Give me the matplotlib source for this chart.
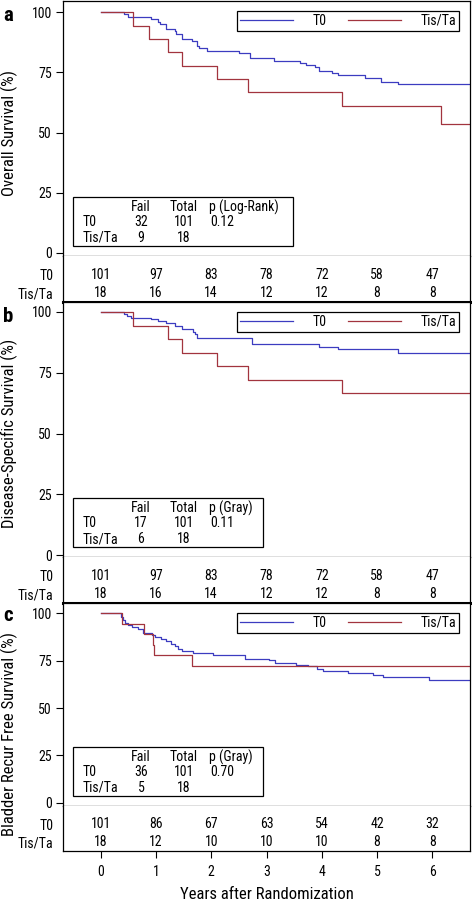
import matplotlib
matplotlib.use('Agg')
import matplotlib.pyplot as plt
from matplotlib import font_manager
from matplotlib.patches import Rectangle
from matplotlib.transforms import Affine2D

# Figure size in pixels (dpi = 100)
W, H = 472, 902
LEFT, RIGHT = 63, 470
XLIM = (-0.68, 6.68)

BLUE = '#3c3cc0'
RED = '#a2343e'

# Pick a narrow sans if one is installed
installed = {f.name for f in font_manager.fontManager.ttflist}
FONT = 'Roboto'
for name in ['Liberation Sans Narrow', 'Roboto Condensed', 'Roboto']:
    if name in installed:
        FONT = name
        break
plt.rcParams['font.family'] = [FONT, 'DejaVu Sans']

groups = ['T0', 'Tis/Ta']
years = [0, 1, 2, 3, 4, 5, 6]
yticks = [0, 25, 50, 75, 100]

# (a) Overall survival
os_t0_time = [0, 0.42, 0.50, 0.92, 1.04, 1.07, 1.19, 1.34, 1.37, 1.48, 1.65, 1.74, 1.78,
              1.93, 2.51, 2.71, 3.13, 3.60, 3.72, 3.87, 3.95, 4.18, 4.29, 4.78, 5.07, 5.38, 6.8]
os_t0_surv = [100, 99, 98, 97, 96, 95, 93, 92, 91, 89, 88, 86, 85,
              84, 83, 80.8, 79.8, 79.0, 78.0, 77.0, 75.6, 74.8, 73.7, 72.5, 71.1, 70.0, 70.0]
os_tis_time = [0, 0.59, 0.87, 1.22, 1.48, 2.10, 2.67, 4.37, 6.15, 6.8]
os_tis_surv = [100, 94.4, 88.9, 83.3, 77.8, 72.2, 66.7, 61.1, 53.5, 53.5]
os_risk_t0 = [101, 97, 83, 78, 72, 58, 47]
os_risk_tis = [18, 16, 14, 12, 12, 8, 8]
os_fail = [32, 9]
os_total = [101, 18]
os_p = '0.12'

# (b) Disease-specific survival
dss_t0_time = [0, 0.43, 0.47, 0.55, 0.92, 1.04, 1.19, 1.34, 1.48, 1.67, 1.70, 1.74,
               2.73, 3.95, 4.30, 5.38, 6.8]
dss_t0_surv = [100, 99, 98.4, 97.7, 97.1, 96.3, 95.3, 94.4, 93, 91.9, 90.8, 89.2,
               86.8, 85.7, 84.8, 83.3, 83.3]
dss_tis_time = [0, 0.59, 1.22, 1.48, 2.11, 2.67, 4.37, 6.8]
dss_tis_surv = [100, 94.4, 88.9, 83.3, 77.8, 72.2, 66.7, 66.7]
dss_risk_t0 = [101, 97, 83, 78, 72, 58, 47]
dss_risk_tis = [18, 16, 14, 12, 12, 8, 8]
dss_fail = [17, 6]
dss_total = [101, 18]
dss_p = '0.11'

# (c) Bladder recurrence free survival
brfs_t0_time = [0, 0.37, 0.41, 0.44, 0.50, 0.57, 0.68, 0.77, 0.93, 0.98, 1.10, 1.19, 1.28,
                1.34, 1.40, 1.48, 1.67, 2.03, 2.61, 3.05, 3.15, 3.54, 3.75, 3.91, 4.02,
                4.47, 4.92, 5.11, 5.94, 6.8]
brfs_t0_surv = [100, 98, 96.5, 94.7, 93.5, 92.6, 91.8, 89.5, 88.3, 87.4, 86.3, 85.1, 83.7,
                82.5, 81.2, 79.8, 79.0, 78.0, 76.0, 75.3, 73.9, 72.8, 71.9, 70.7, 69.6,
                68.6, 67.5, 66.3, 64.7, 64.7]
brfs_tis_time = [0, 0.38, 0.78, 0.94, 0.97, 1.66, 6.8]
brfs_tis_surv = [100, 94.4, 88.9, 83.3, 77.8, 72.2, 72.2]
brfs_risk_t0 = [101, 86, 67, 63, 54, 42, 32]
brfs_risk_tis = [18, 12, 10, 10, 10, 8, 8]
brfs_fail = [36, 5]
brfs_total = [101, 18]
brfs_p = '0.70'

FS = 10  # base font size


def rect(top, bottom):
    """Axes rectangle in figure fraction from pixel rows (top-down)."""
    return [LEFT / W, 1 - bottom / H, (RIGHT - LEFT) / W, (bottom - top) / H]


def draw_panel(fig, pix, p):
    """Draw one survival panel with its legend, stats box and at-risk table."""
    top, mid, bottom = p['rows']
    ax = fig.add_axes(rect(top, mid))
    ax.step(p['t0'][0], p['t0'][1], where='post', color=BLUE, lw=0.9, label=groups[0])
    ax.step(p['tis'][0], p['tis'][1], where='post', color=RED, lw=0.9, label=groups[1])
    ax.set_xlim(XLIM)
    ax.set_ylim(p['ylim'])
    ax.set_yticks(yticks)
    ax.set_xticks([])
    ax.tick_params(axis='y', direction='out', length=5, width=0.8, labelsize=FS, pad=3)
    for s in ax.spines.values():
        s.set_linewidth(0.9)

    h = mid - top
    leg = ax.legend(loc='upper right', bbox_to_anchor=(1 - 11 / (RIGHT - LEFT), 1 - 10 / h),
                    ncol=2, fancybox=False, edgecolor='black', framealpha=1,
                    handlelength=3.8, handletextpad=1.4, columnspacing=1.6,
                    borderpad=0.2, borderaxespad=0, fontsize=FS)
    leg.get_frame().set_linewidth(0.9)

    # stats box
    btop = mid - 59
    ax.add_patch(Rectangle((73, btop), p['box_w'], 49, transform=pix, fill=False,
                           lw=0.9, ec='black', clip_on=False))
    kw = dict(transform=pix, va='center', fontsize=FS)
    ax.text(141, btop + 10, 'Fail', ha='center', **kw)
    ax.text(184, btop + 10, 'Total', ha='center', **kw)
    ax.text(209, btop + 10, p['p_head'], ha='left', **kw)
    for i, g in enumerate(groups):
        y = btop + 25 + 16 * i
        ax.text(83, y, g, ha='left', **kw)
        ax.text(141, y, str(p['fail'][i]), ha='center', **kw)
        ax.text(184, y, str(p['total'][i]), ha='center', **kw)
    ax.text(210, btop + 25, p['p'], ha='left', **kw)

    # at-risk table
    rax = fig.add_axes(rect(mid, bottom))
    rax.set_xlim(XLIM)
    rax.set_ylim(0, 1)
    rax.spines['top'].set_visible(False)
    for s in ['left', 'right', 'bottom']:
        rax.spines[s].set_linewidth(0.9)
    if p['thick']:
        rax.spines['bottom'].set_linewidth(2.2)
    rows_y = [0.59, 0.2]
    rax.set_yticks(rows_y)
    rax.set_yticklabels(groups)
    rax.tick_params(axis='y', length=0, pad=7, labelsize=FS)
    for y, vals in zip(rows_y, [p['risk_t0'], p['risk_tis']]):
        for x, v in zip(years, vals):
            rax.text(x, y, str(v), ha='center', va='center', fontsize=FS)
    if p['last']:
        rax.set_xticks(years)
        rax.tick_params(axis='x', direction='out', length=5, width=0.8, labelsize=FS, pad=5)
        rax.set_xlabel('Years after Randomization', fontsize=12, labelpad=6)
    else:
        rax.set_xticks([])

    fig.text(8 / W, 1 - p['letter_y'] / H, p['letter'], fontsize=15, fontweight='bold',
             ha='center', va='center')
    fig.text(9 / W, 1 - p['ylabel_y'] / H, p['ylabel'], fontsize=12, rotation=90,
             ha='center', va='center')


def main():
    fig = plt.figure(figsize=(W / 100, H / 100), dpi=100)
    # pixel transform: x right, y down from figure top-left
    pix = Affine2D().scale(1.0 / W, -1.0 / H).translate(0, 1) + fig.transFigure

    panels = [
        dict(rows=(1, 256, 302), ylim=(-1.25, 104.6), letter='a', letter_y=15.5,
             ylabel='Overall Survival (%)', ylabel_y=133,
             t0=(os_t0_time, os_t0_surv), tis=(os_tis_time, os_tis_surv),
             risk_t0=os_risk_t0, risk_tis=os_risk_tis, fail=os_fail, total=os_total,
             p=os_p, p_head='p (Log-Rank)', box_w=220, thick=True, last=False),
        dict(rows=(302, 557, 603), ylim=(-0.8, 104.1), letter='b', letter_y=316,
             ylabel='Disease-Specific Survival (%)', ylabel_y=433,
             t0=(dss_t0_time, dss_t0_surv), tis=(dss_tis_time, dss_tis_surv),
             risk_t0=dss_risk_t0, risk_tis=dss_risk_tis, fail=dss_fail, total=dss_total,
             p=dss_p, p_head='p (Gray)', box_w=190, thick=True, last=False),
        dict(rows=(603, 806, 851), ylim=(-1.6, 105.3), letter='c', letter_y=615.5,
             ylabel='Bladder Recur Free Survival (%)', ylabel_y=734,
             t0=(brfs_t0_time, brfs_t0_surv), tis=(brfs_tis_time, brfs_tis_surv),
             risk_t0=brfs_risk_t0, risk_tis=brfs_risk_tis, fail=brfs_fail, total=brfs_total,
             p=brfs_p, p_head='p (Gray)', box_w=190, thick=False, last=True),
    ]
    for p in panels:
        draw_panel(fig, pix, p)

    fig.savefig('out.png', dpi=100)


if __name__ == "__main__":
    main()
